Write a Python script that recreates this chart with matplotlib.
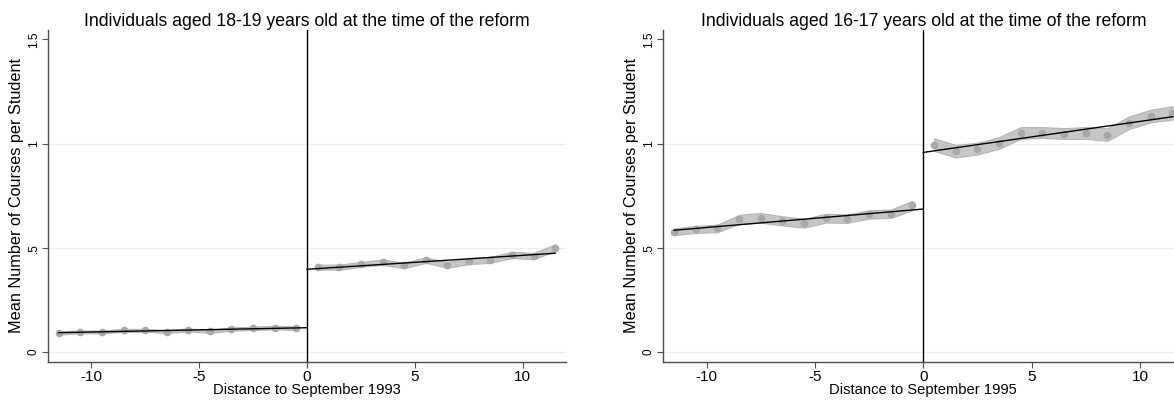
import numpy as np
import matplotlib
matplotlib.use('Agg')
import matplotlib.pyplot as plt

plt.rcParams['font.family'] = ['Liberation Sans', 'DejaVu Sans']
plt.rcParams['axes.unicode_minus'] = False

# bins (months relative to the reform)
x_pre = [-11.5, -10.5, -9.5, -8.5, -7.5, -6.5, -5.5, -4.5, -3.5, -2.5, -1.5, -0.5]
x_post = [0.5, 1.5, 2.5, 3.5, 4.5, 5.5, 6.5, 7.5, 8.5, 9.5, 10.5, 11.5]

# 1993 reform, aged 18-19
y93_pre = [0.091, 0.096, 0.096, 0.104, 0.104, 0.098, 0.106, 0.099, 0.110, 0.114, 0.117, 0.114]
y93_post = [0.407, 0.407, 0.420, 0.431, 0.415, 0.441, 0.418, 0.436, 0.442, 0.466, 0.460, 0.500]
ci93_pre = [0.007, 0.007, 0.007, 0.007, 0.007, 0.007, 0.007, 0.007, 0.008, 0.008, 0.008, 0.009]
ci93_post = [0.012, 0.012, 0.012, 0.013, 0.013, 0.013, 0.014, 0.014, 0.014, 0.015, 0.015, 0.016]

# 1995 reform, aged 16-17
y95_pre = [0.577, 0.588, 0.593, 0.636, 0.644, 0.629, 0.618, 0.642, 0.640, 0.660, 0.663, 0.703]
y95_post = [0.995, 0.963, 0.976, 1.003, 1.051, 1.053, 1.048, 1.051, 1.043, 1.100, 1.132, 1.147]
ci95_pre = [0.016, 0.017, 0.018, 0.022, 0.023, 0.022, 0.021, 0.021, 0.020, 0.020, 0.020, 0.022]
ci95_post = [0.030, 0.030, 0.028, 0.028, 0.028, 0.026, 0.026, 0.028, 0.030, 0.030, 0.030, 0.032]

titles = ['Individuals aged 18-19 years old at the time of the reform',
          'Individuals aged 16-17 years old at the time of the reform']
xlabels = ['Distance to September 1993', 'Distance to September 1995']

panels = [(y93_pre, y93_post, ci93_pre, ci93_post),
          (y95_pre, y95_post, ci95_pre, ci95_post)]

fig = plt.figure(figsize=(11.74, 4.05), dpi=100)
positions = [[0.0409, 0.1062, 0.4412, 0.8198],
             [0.5650, 0.1062, 0.4429, 0.8198]]

for k in range(2):
    ax = fig.add_axes(positions[k])
    pre, post, cpre, cpost = panels[k]

    for xs, ys, cs, x_end in [(x_pre, pre, cpre, (-11.5, 0)), (x_post, post, cpost, (0, 11.5))]:
        xs = np.array(xs)
        ys = np.array(ys)
        cs = np.array(cs)
        ax.fill_between(xs, ys - cs, ys + cs, color='#c6c6c6', edgecolor='#b4b4b4', lw=0.8, zorder=2)
        ax.plot(xs, ys, 'o', color='#a8a8a8', ms=5.5, mew=0, zorder=3)
        b, a = np.polyfit(xs, ys, 1)
        xf = np.array(x_end)
        ax.plot(xf, a + b * xf, color='black', lw=1, zorder=4)

    for g in [0, 0.5, 1]:
        ax.axhline(g, color='#e8f0f1', lw=1, zorder=0)
    ax.axvline(0, color='black', lw=1, zorder=5)

    ax.set_xlim(-12, 12)
    ax.set_ylim(-0.048, 1.545)
    ax.set_xticks([-10, -5, 0, 5, 10])
    ax.set_xticklabels(['-10', '-5', '0', '5', '10'], fontsize=11)
    ax.set_yticks([0, 0.5, 1, 1.5])
    ax.set_yticklabels(['0', '.5', '1', '1.5'], fontsize=8.5, rotation=90, va='center')

    for s in ['top', 'right']:
        ax.spines[s].set_visible(False)
    for s in ['left', 'bottom']:
        ax.spines[s].set_color('#4d4d4d')
        ax.spines[s].set_linewidth(1)
    ax.tick_params(length=4, width=0.8, color='#4d4d4d', pad=2)

    ax.set_title(titles[k], fontsize=12.7, pad=3)
    ax.set_xlabel(xlabels[k], fontsize=10.6, labelpad=-1)
    ax.set_ylabel('Mean Number of Courses per Student', fontsize=11.7, labelpad=3)

fig.savefig('out.png', dpi=100)
